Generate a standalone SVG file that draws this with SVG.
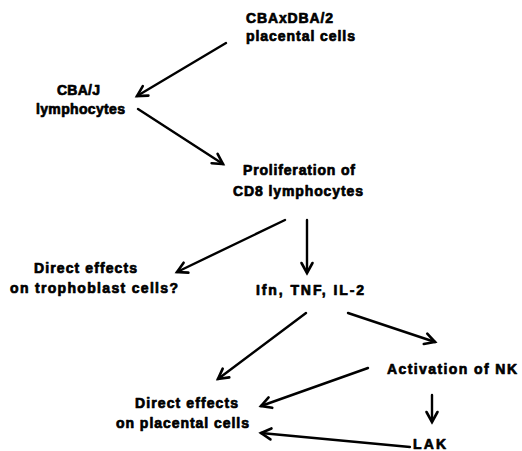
<svg xmlns="http://www.w3.org/2000/svg" width="522" height="451" viewBox="0 0 522 451">
<style>
text{font-family:"Liberation Sans",Arial,sans-serif;font-weight:bold;font-size:14px;fill:#000;stroke:#000;stroke-width:0.7;stroke-linejoin:round;}
.c line{stroke:#000;stroke-width:2.4;stroke-linecap:round;}
</style>
<defs>
<marker id="ah" markerUnits="userSpaceOnUse" markerWidth="20" markerHeight="20" refX="0" refY="0" viewBox="-14 -10 20 20" orient="auto">
<path d="M-10,-5.5 L0,0 L-10,5.5" fill="none" stroke="#000" stroke-width="2.6" stroke-linejoin="miter" stroke-linecap="round"/>
</marker>
</defs>
<rect width="522" height="451" fill="#fff"/>
<g id="n1"><text x="246" y="23" textLength="87" lengthAdjust="spacing">CBAxDBA/2</text><text x="246" y="41" textLength="109" lengthAdjust="spacing">placental cells</text></g>
<g id="n2"><text x="57" y="95" textLength="43" lengthAdjust="spacing">CBA/J</text><text x="36" y="114" textLength="89" lengthAdjust="spacing">lymphocytes</text></g>
<g id="n3"><text x="243" y="175" textLength="112" lengthAdjust="spacing">Proliferation of</text><text x="233" y="196" textLength="130" lengthAdjust="spacing">CD8 lymphocytes</text></g>
<g id="n4"><text x="34" y="273" textLength="103" lengthAdjust="spacing">Direct effects</text><text x="10" y="293" textLength="168" lengthAdjust="spacing">on trophoblast cells?</text></g>
<g id="n5"><text x="256" y="295" textLength="108" lengthAdjust="spacing">Ifn, TNF, IL-2</text></g>
<g id="n6"><text x="387" y="374" textLength="130" lengthAdjust="spacing">Activation of NK</text></g>
<g id="n7"><text x="135" y="408" textLength="103" lengthAdjust="spacing">Direct effects</text><text x="116" y="428" textLength="133" lengthAdjust="spacing">on placental cells</text></g>
<g id="n8"><text x="413" y="449" textLength="33" lengthAdjust="spacing">LAK</text></g>
<g id="connectors" class="c">
<line x1="226" y1="43" x2="137" y2="96" marker-end="url(#ah)"/>
<line x1="138" y1="109" x2="223" y2="164" marker-end="url(#ah)"/>
<line x1="285" y1="220" x2="177" y2="272" marker-end="url(#ah)"/>
<line x1="307" y1="220" x2="307" y2="273" marker-end="url(#ah)"/>
<line x1="306" y1="313" x2="218" y2="379" marker-end="url(#ah)"/>
<line x1="348" y1="313" x2="435" y2="342" marker-end="url(#ah)"/>
<line x1="368" y1="368" x2="261" y2="406" marker-end="url(#ah)"/>
<line x1="410" y1="447" x2="261" y2="433" marker-end="url(#ah)"/>
<line x1="432" y1="395" x2="432" y2="422" marker-end="url(#ah)"/>
</g>
</svg>
